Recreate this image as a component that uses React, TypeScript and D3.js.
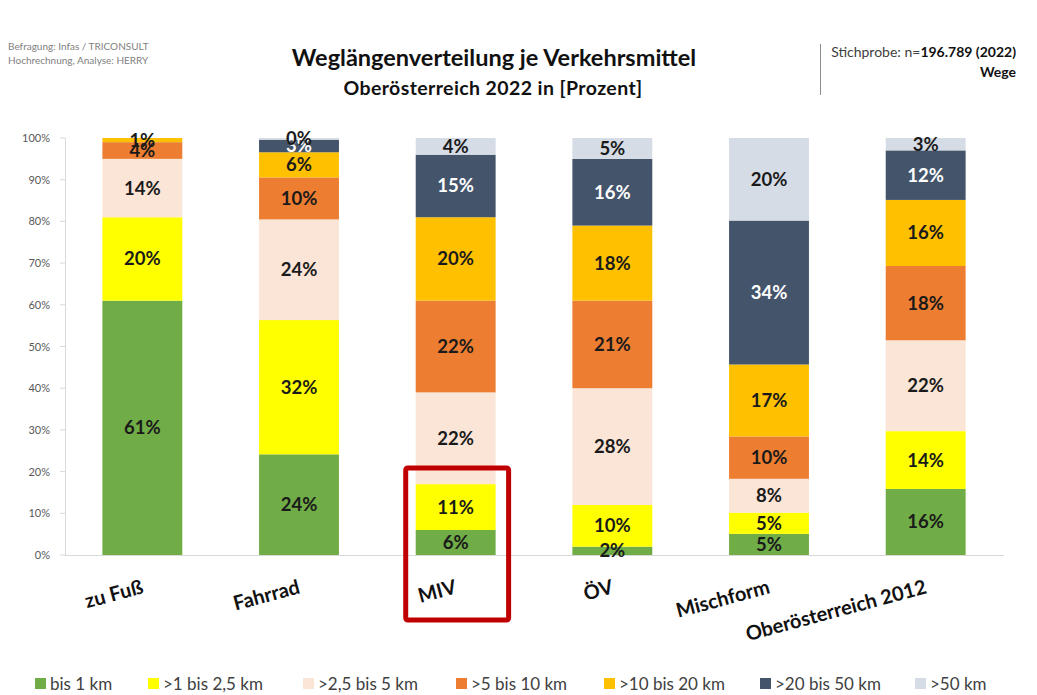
import React from "react";
import * as d3 from "d3";

const categories = ["zu Fuß", "Fahrrad", "MIV", "ÖV", "Mischform", "Oberösterreich 2012"];
const seriesNames = ["bis 1 km", ">1 bis 2,5 km", ">2,5 bis 5 km", ">5 bis 10 km", ">10 bis 20 km", ">20 bis 50 km", ">50 km"];
const seriesColors = ["#70AD47", "#FFFF00", "#FBE5D6", "#ED7D31", "#FFC000", "#44546A", "#D6DCE5"];
const labelColors = ["#1a1a1a", "#1a1a1a", "#1a1a1a", "#1a1a1a", "#1a1a1a", "#ffffff", "#1a1a1a"];
// values per series, one per category (percent)
const bis1 = [61, 24, 6, 2, 5, 16];
const bis2_5 = [20, 32, 11, 10, 5, 14];
const bis5 = [14, 24, 22, 28, 8, 22];
const bis10 = [4, 10, 22, 21, 10, 18];
const bis20 = [1, 6, 20, 18, 17, 16];
const bis50 = [0, 3, 15, 16, 34, 12];
const over50 = [0, 0.4, 4, 5, 19.5, 3];
const seriesValues = [bis1, bis2_5, bis5, bis10, bis20, bis50, over50];
const yTicks = [0, 10, 20, 30, 40, 50, 60, 70, 80, 90, 100];
const highlighted = "MIV";

const FONT = "Lato, 'Open Sans', sans-serif";

export default function App() {
  const W = 1037, H = 695;
  const x = d3.scaleBand<string>().domain(categories).range([64, 1004]).paddingInner(0.49).paddingOuter(0.245);
  const y = d3.scaleLinear().domain([0, 1]).range([555, 138]);

  const rows = categories.map((c, i) => {
    const r: any = { cat: c };
    seriesNames.forEach((s, j) => (r[s] = seriesValues[j][i]));
    return r;
  });
  const stacked = d3.stack<any>().keys(seriesNames).offset(d3.stackOffsetExpand)(rows);

  const legendX = [35, 148, 303, 456, 604, 760, 915];

  const mx = x(highlighted)!;
  const bw = x.bandwidth();

  return (
    <svg width={W} height={H} style={{ position: "absolute", left: 0, top: 0, background: "#fff" }} fontFamily={FONT}>
      <rect width={W} height={H} fill="#fff" />
      {/* header left */}
      <text x={8} y={50} fontSize={10} fill="#7f7f7f">Befragung: Infas / TRICONSULT</text>
      <text x={8} y={64} fontSize={10} fill="#7f7f7f">Hochrechnung, Analyse: HERRY</text>
      {/* title */}
      <text x={494} y={66} fontSize={23.5} fontWeight="bold" textAnchor="middle" fill="#111">Weglängenverteilung je Verkehrsmittel</text>
      <text x={493} y={95} fontSize={19.5} fontWeight="bold" textAnchor="middle" fill="#111" letterSpacing={0.4}>Oberösterreich 2022 in [Prozent]</text>
      {/* header right */}
      <line x1={820.5} x2={820.5} y1={44} y2={95} stroke="#8c8c8c" strokeWidth={1} />
      <text x={1016} y={57} fontSize={14} textAnchor="end" fill="#404040">
        Stichprobe: n=<tspan fontWeight="bold" fill="#111">196.789 (2022)</tspan>
      </text>
      <text x={1016} y={77} fontSize={14} textAnchor="end" fontWeight="bold" fill="#111">Wege</text>

      {/* y axis */}
      <line x1={65.5} x2={65.5} y1={y(1)} y2={y(0)} stroke="#d9d9d9" />
      {yTicks.map((t) => (
        <g key={t}>
          <line x1={60} x2={65.5} y1={y(t / 100)} y2={y(t / 100)} stroke="#d9d9d9" />
          <text x={50} y={y(t / 100) + 4} fontSize={11} textAnchor="end" fill="#595959">{t}%</text>
        </g>
      ))}
      <line x1={65} x2={1004} y1={y(0) + 0.5} y2={y(0) + 0.5} stroke="#d9d9d9" />

      {/* bars */}
      {stacked.map((s, j) => (
        <g key={s.key} fill={seriesColors[j]}>
          {s.map((d, i) => (
            <rect key={i} x={x(categories[i])} width={bw} y={y(d[1])} height={Math.max(0, y(d[0]) - y(d[1]))} />
          ))}
        </g>
      ))}
      {/* labels */}
      {stacked.map((s, j) => (
        <g key={s.key + "l"}>
          {s.map((d, i) =>
            seriesValues[j][i] > 0 ? (
              <text
                key={i}
                x={x(categories[i])! + bw / 2}
                y={(y(d[0]) + y(d[1])) / 2 + 6.5}
                fontSize={18.5}
                fontWeight="bold"
                textAnchor="middle"
                fill={labelColors[j]}
              >
                {Math.round(seriesValues[j][i])}%
              </text>
            ) : null
          )}
        </g>
      ))}

      {/* x labels */}
      {categories.map((c) => {
        const cx = x(c)! + bw / 2 + 2;
        return (
          <text key={c} x={cx} y={593} fontSize={20} fontWeight="bold" textAnchor="end" fill="#111" transform={`rotate(-15 ${cx} 593)`}>
            {c}
          </text>
        );
      })}

      {/* highlight box */}
      <rect x={mx - 10} y={468} width={bw + 23} height={152} fill="none" stroke="#C00000" strokeWidth={5} rx={2} />

      {/* legend */}
      {seriesNames.map((s, j) => (
        <g key={s}>
          <rect x={legendX[j]} y={678} width={11} height={11} fill={seriesColors[j]} />
          <text x={legendX[j] + 15} y={690} fontSize={17} fill="#404040">{s}</text>
        </g>
      ))}
    </svg>
  );
}
